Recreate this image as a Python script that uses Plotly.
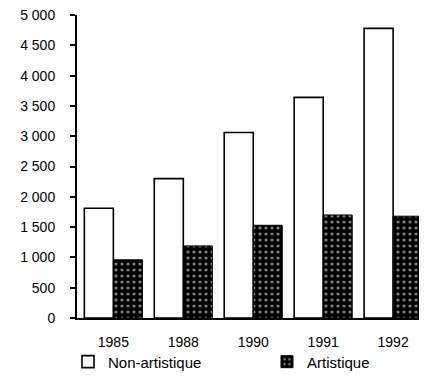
import plotly.graph_objects as go

# Annual counts by category
years = ["1985", "1988", "1990", "1991", "1992"]
non_artistique = [1810, 2300, 3060, 3640, 4780]
artistique = [960, 1190, 1530, 1700, 1680]

y_tickvals = [0, 500, 1000, 1500, 2000, 2500, 3000, 3500, 4000, 4500, 5000]
y_ticktext = ["0", "500", "1 000", "1 500", "2 000", "2 500",
              "3 000", "3 500", "4 000", "4 500", "5 000"]

fig = go.Figure()
fig.add_trace(go.Bar(
    x=years, y=non_artistique, name="Non-artistique", legend="legend",
    marker=dict(color="white", line=dict(color="black", width=1.6)),
))
fig.add_trace(go.Bar(
    x=years, y=artistique, name="Artistique", legend="legend2",
    marker=dict(
        color="black",
        line=dict(color="black", width=1),
        pattern=dict(shape=".", bgcolor="black", fgcolor="white",
                     size=6, solidity=0.22),
    ),
))

legend_style = dict(
    xref="container", yref="container", xanchor="left", yanchor="middle",
    font=dict(size=15), bgcolor="rgba(0,0,0,0)", itemclick=False,
)

fig.update_layout(
    width=425, height=377,
    margin=dict(l=77, r=6, t=15, b=59, autoexpand=False),
    paper_bgcolor="white", plot_bgcolor="white",
    barmode="group", bargap=0.17, bargroupgap=0,
    font=dict(family="Liberation Sans, Arial, sans-serif", size=14, color="black"),
    showlegend=True,
    legend=dict(x=68 / 425, y=0.04, **legend_style),
    legend2=dict(x=267 / 425, y=0.04, **legend_style),
)
fig.update_xaxes(
    type="category", range=[-0.52, 4.37],
    showline=True, linecolor="black", linewidth=2,
    ticks="", ticklabelstandoff=10, showgrid=False, zeroline=False,
)
fig.update_yaxes(
    range=[0, 5000], tickvals=y_tickvals, ticktext=y_ticktext,
    showline=True, linecolor="black", linewidth=2,
    ticks="outside", ticklen=5, tickwidth=1.5, tickcolor="black",
    ticklabelstandoff=12, showgrid=False, zeroline=False,
)

fig.write_html("out.html")
